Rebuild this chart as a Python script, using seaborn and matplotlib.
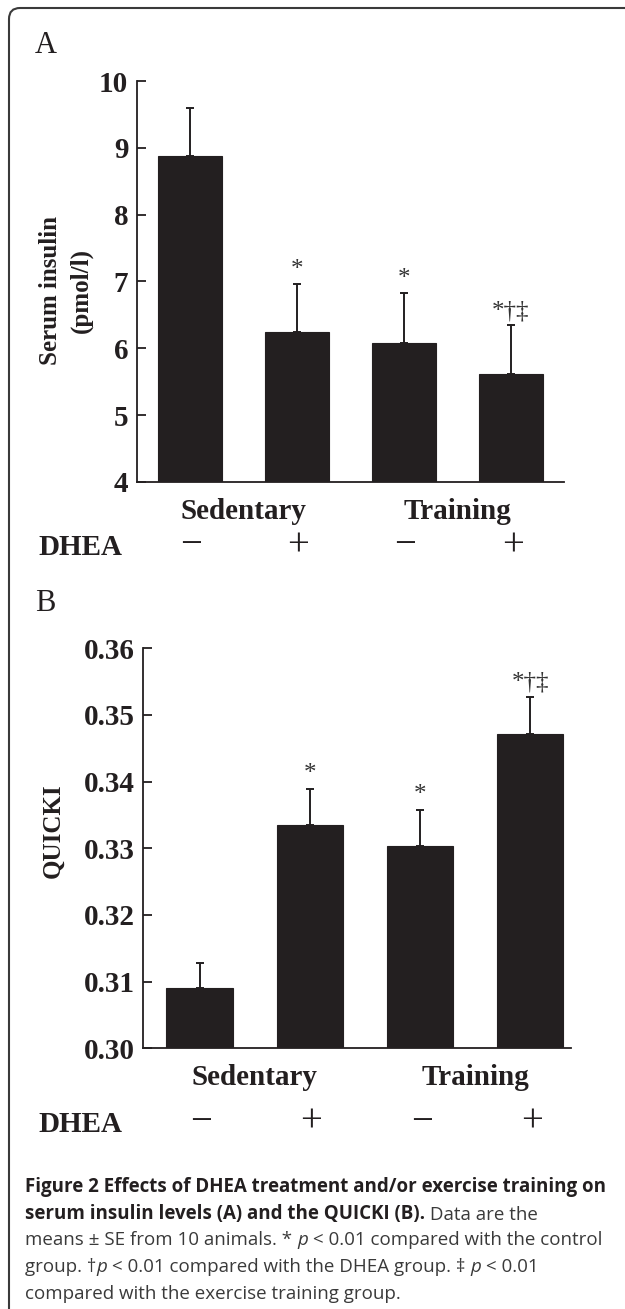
import numpy as np
import seaborn as sns
import matplotlib.pyplot as plt
import matplotlib.transforms as mtransforms
from matplotlib.patches import FancyBboxPatch

# Data
groups = ["Sedentary -", "Sedentary +", "Training -", "Training +"]
group_labels = ["Sedentary", "Training"]
dhea_signs = ["\u2212", "+", "\u2212", "+"]

insulin_mean = [8.87, 6.24, 6.08, 5.62]
insulin_se = [0.73, 0.72, 0.74, 0.72]
insulin_ticks = [4, 5, 6, 7, 8, 9, 10]

quicki_mean = [0.3091, 0.3335, 0.3304, 0.3472]
quicki_se = [0.0037, 0.0054, 0.0054, 0.0055]
quicki_ticks = [0.30, 0.31, 0.32, 0.33, 0.34, 0.35, 0.36]

sig_marks = ["", "*", "*", "*\u2020\u2021"]

W, H = 625, 1309
BAR = "#231f20"
SERIF = ["Liberation Serif", "DejaVu Serif"]
SANS = ["Open Sans", "DejaVu Sans"]

sns.set_style("white")
plt.rcParams["font.family"] = SERIF
plt.rcParams["axes.linewidth"] = 1.3


def fx(x):
    return x / W


def fy(y):
    return 1 - y / H


fig = plt.figure(figsize=(W / 100, H / 100), dpi=100)

# Rounded frame around the whole figure
frame = FancyBboxPatch((9, -30), 700, H - 8 + 30,
                       boxstyle="round,pad=0,rounding_size=11",
                       transform=mtransforms.IdentityTransform(),
                       facecolor="none", edgecolor="#3a3a3a", linewidth=1.5)
fig.add_artist(frame)


def panel(rect, means, ses, ticks, tick_fmt, xlim, sign_y, cat_y, dhea_y):
    ax = fig.add_axes(rect)
    sns.barplot(x=groups, y=means, color=BAR, saturation=1, width=0.6,
                errorbar=None, edgecolor=BAR, linewidth=0.8, ax=ax)
    ax.errorbar(range(4), means, yerr=[np.zeros(4), ses], fmt="none",
                ecolor=BAR, elinewidth=1.4, capsize=3, capthick=1.4)
    ax.set_ylim(ticks[0], ticks[-1])
    ax.set_xlim(*xlim)
    ax.set_yticks(ticks)
    ax.set_yticklabels([tick_fmt.format(t) for t in ticks],
                       fontsize=21, fontweight="bold", color=BAR)
    ax.tick_params(axis="y", direction="in", length=6.5, width=1.3,
                   pad=6, color=BAR, left=True)
    ax.tick_params(axis="x", bottom=False, labelbottom=False)
    ax.set_xlabel("")
    ax.set_ylabel("")
    sns.despine(ax=ax)
    for s in ["left", "bottom"]:
        ax.spines[s].set_color(BAR)

    # significance marks above the error bars
    for i, (m, s, mark) in enumerate(zip(means, ses, sig_marks)):
        if mark:
            ax.annotate(mark, xy=(i, m + s), xytext=(0, 2.5),
                        textcoords="offset points", ha="center", va="bottom",
                        fontsize=18, color="#333333")

    tr = mtransforms.blended_transform_factory(ax.transData, fig.transFigure)
    ax.text(0.5, fy(cat_y), group_labels[0], transform=tr, ha="center",
            va="baseline", fontsize=21, fontweight="bold", color=BAR)
    ax.text(2.5, fy(cat_y), group_labels[1], transform=tr, ha="center",
            va="baseline", fontsize=21, fontweight="bold", color=BAR)
    for i, sgn in enumerate(dhea_signs):
        ax.text(i + 0.015, fy(sign_y), sgn, transform=tr, ha="center",
                va="baseline", fontsize=28, color=BAR)
    fig.text(fx(38), fy(dhea_y), "DHEA", ha="left", va="baseline",
             fontsize=21, fontweight="bold", color=BAR)
    return ax


# Panel A: serum insulin
ax_a = panel([fx(136.7), fy(481.8), (564 - 136.7) / W, (481.8 - 81) / H],
             insulin_mean, insulin_se, insulin_ticks, "{:d}",
             (-0.495, 3.495), 555, 519, 555)
fig.text(fx(35), fy(53), "A", fontsize=22, color=BAR, va="baseline")
fig.text(fx(66), fy(290), "Serum insulin\n(pmol/l)", rotation=90,
         ha="center", va="center", multialignment="center", linespacing=1.45,
         fontsize=18, fontweight="bold", color=BAR)

# Panel B: QUICKI
ax_b = panel([fx(143.3), fy(1048.3), (571 - 143.3) / W, (1048.3 - 648.3) / H],
             quicki_mean, quicki_se, quicki_ticks, "{:.2f}",
             (-0.51, 3.37), 1132, 1085, 1132)
fig.text(fx(35), fy(611), "B", fontsize=22, color=BAR, va="baseline")
fig.text(fx(53), fy(831), "QUICKI", rotation=90, ha="center", va="center",
         fontsize=18, fontweight="bold", color=BAR)

# Caption, built piece by piece so bold / italic runs line up
cap_ax = fig.add_axes([0, 0, 1, 1])
cap_ax.axis("off")
cap_ax.set_xlim(0, 1)
cap_ax.set_ylim(0, 1)

caption = [
    (1192, [("Figure 2 Effects of DHEA treatment and/or exercise training on", "bold", "normal")]),
    (1219, [("serum insulin levels (A) and the QUICKI (B).", "bold", "normal"),
            (" Data are the", "normal", "normal")]),
    (1245, [("means \u00b1 SE from 10 animals. * ", "normal", "normal"),
            ("p", "normal", "italic"),
            (" < 0.01 compared with the control", "normal", "normal")]),
    (1272, [("group. \u2020", "normal", "normal"),
            ("p", "normal", "italic"),
            (" < 0.01 compared with the DHEA group. \u2021 ", "normal", "normal"),
            ("p", "normal", "italic"),
            (" < 0.01", "normal", "normal")]),
    (1299, [("compared with the exercise training group.", "normal", "normal")]),
]
for y, parts in caption:
    prev = None
    for txt, weight, style in parts:
        color = BAR if weight == "bold" else "#3a3a3a"
        if prev is None:
            prev = cap_ax.text(fx(25), fy(y), txt, ha="left", va="baseline",
                               fontsize=13.5, fontweight=weight, fontstyle=style,
                               family=SANS, color=color)
        else:
            prev = cap_ax.annotate(txt, xy=(1, 0), xycoords=prev, ha="left",
                                   va="bottom", fontsize=13.5, fontweight=weight,
                                   fontstyle=style, family=SANS, color=color)

plt.savefig("out.png", dpi=100)
